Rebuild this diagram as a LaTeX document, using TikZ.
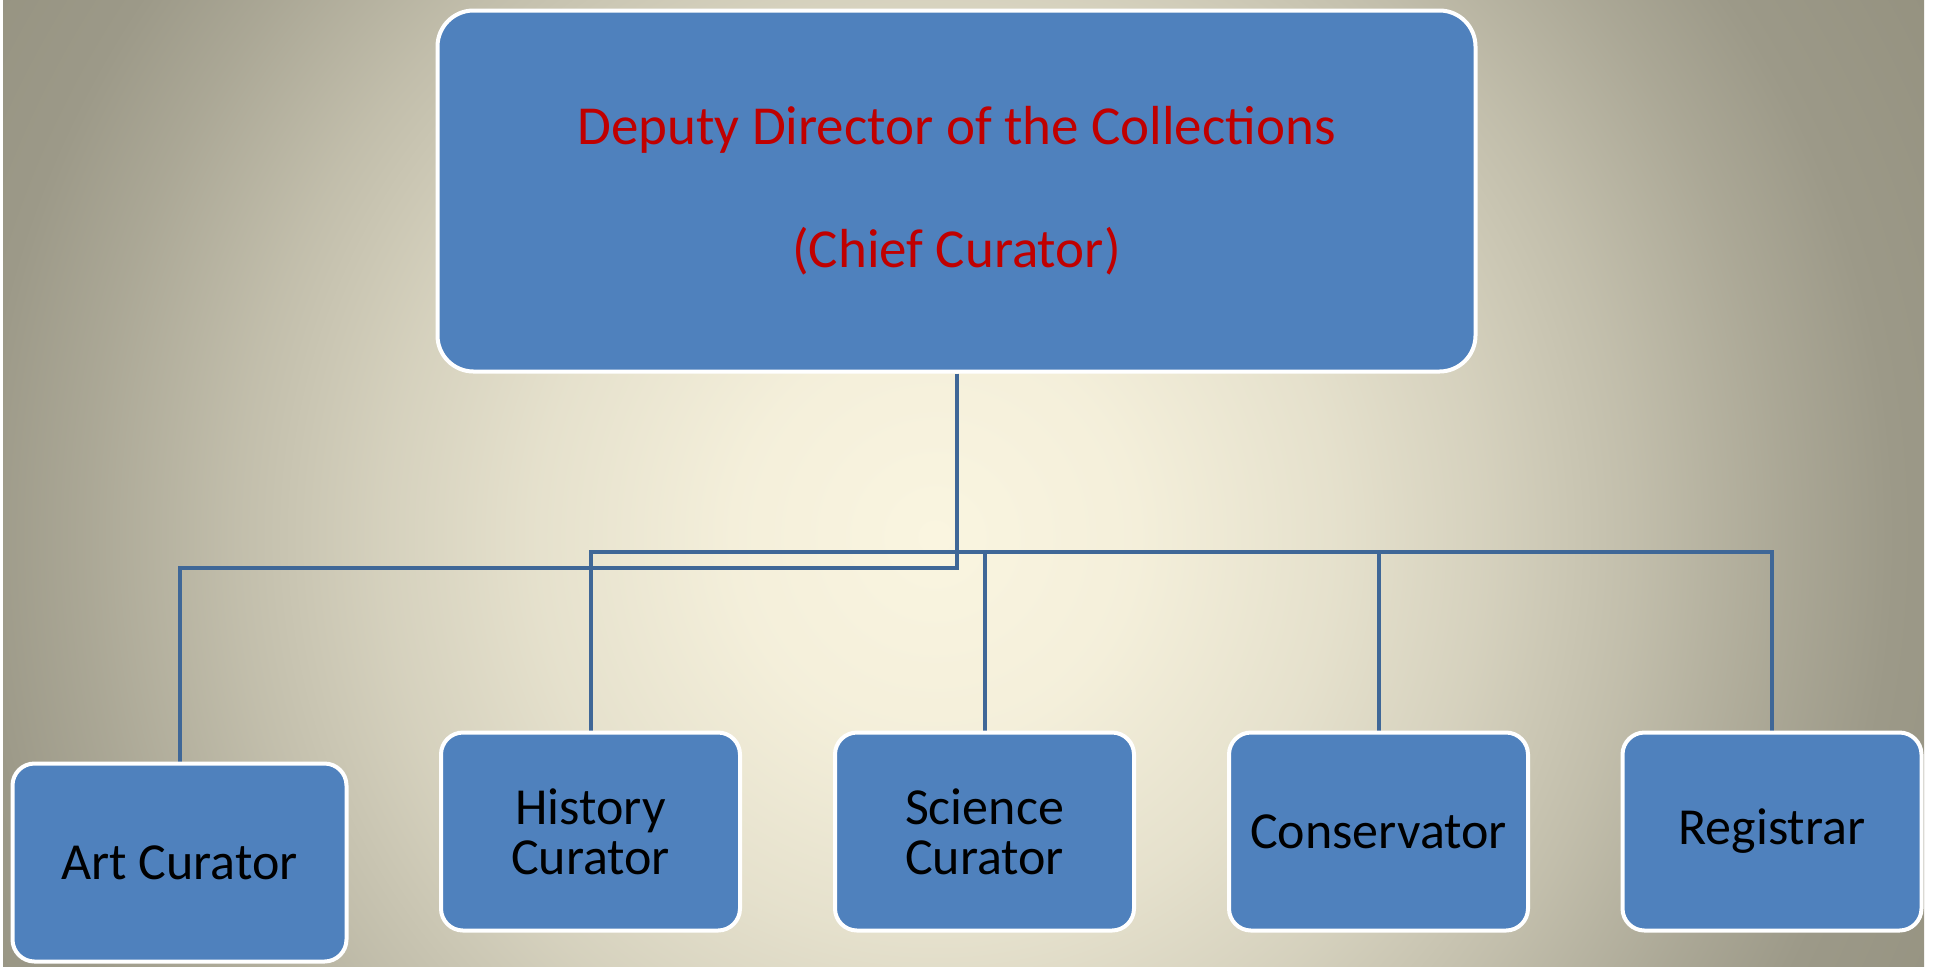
\documentclass[tikz,border=0pt]{standalone}
\usepackage{fontspec}
\setmainfont{Carlito}
\pgfdeclarelayer{back}
\pgfdeclarelayer{mid}
\pgfsetlayers{back,mid,main}
\definecolor{boxblue}{HTML}{4F81BD}
\definecolor{titlered}{HTML}{C00000}
\definecolor{connblue}{HTML}{3F6797}
\definecolor{bgin}{HTML}{FAF5E0}
\definecolor{bgout}{HTML}{979483}
\definecolor{bgedge}{HTML}{9C9988}
\definecolor{bgcorner}{HTML}{959280}
\pgfdeclareradialshading{bgshade}{\pgfpoint{0bp}{0bp}}{%
  color(0bp)=(bgin);
  color(4.42bp)=(bgout!6!bgin);
  color(8.85bp)=(bgout!21!bgin);
  color(12.17bp)=(bgout!37!bgin);
  color(15.49bp)=(bgout!57!bgin);
  color(18.81bp)=(bgout!80!bgin);
  color(21.24bp)=(bgedge);
  color(25bp)=(bgcorner);
  color(50bp)=(bgcorner)}
\begin{document}
\begin{tikzpicture}[x=0.5pt,y=-0.5pt,
  box/.style={draw=white, line width=2pt, fill=boxblue, rounded corners=11pt,
    inner sep=0pt, minimum width=149.5pt, minimum height=99pt, align=center,
    font={\fontsize{26}{25}\selectfont}, text=black},
  topbox/.style={box, rounded corners=18pt, minimum width=519pt, minimum height=180.5pt,
    font={\fontsize{27.5}{61.5}\selectfont}, text=titlered},
  conn/.style={draw=connblue, line width=2pt}]
\useasboundingbox (0,0) rectangle (1933,966);
\begin{pgfonlayer}{back}
  \fill[white] (0,0) rectangle (1933,966);
  \begin{scope}
    \clip (3,0) rectangle (1924,966);
    \shade[shading=bgshade] (935,537) circle (1130);
  \end{scope}
\end{pgfonlayer}
\node[topbox] (top) at (956.5,191) {Deputy Director of the Collections\\(Chief Curator)};
\node[box, minimum width=167pt] (art) at (179.5,862.5) {Art Curator};
\node[box] (hist) at (590.5,831.5) {History\\Curator};
\node[box] (sci) at (984.5,831.5) {Science\\Curator};
\node[box] (cons) at (1378.5,831.5) {Conservator};
\node[box] (reg) at (1772,831.5) {Registrar};
\coordinate (jA) at (956.5,568);
\coordinate (jB) at (956.5,552);
\begin{pgfonlayer}{mid}
  \draw[conn] (top.south) -- (jA) -| (art.north);
  \draw[conn] (top.south) -- (jB) -| (hist.north);
  \draw[conn] (top.south) -- (jB) -| (sci.north);
  \draw[conn] (top.south) -- (jB) -| (cons.north);
  \draw[conn] (top.south) -- (jB) -| (reg.north);
\end{pgfonlayer}
\end{tikzpicture}
\end{document}
